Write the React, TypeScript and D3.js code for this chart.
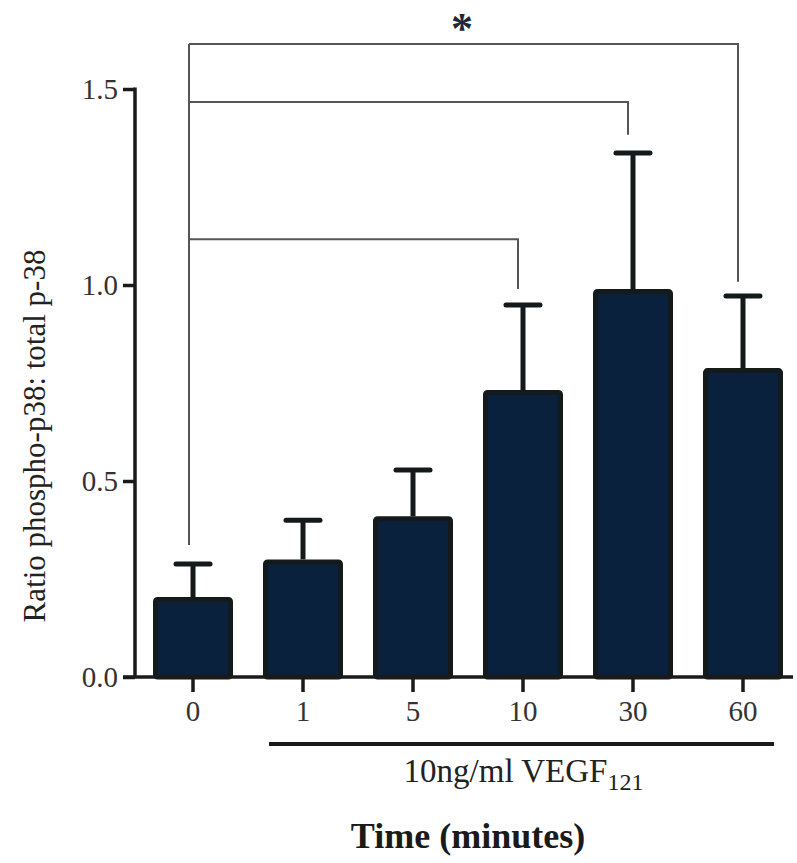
import React, { useEffect, useRef } from "react";
import * as d3 from "d3";

const width = 797;
const height = 863;

// time points (minutes) and measured ratio phospho-p38 : total p-38
const timeLabels = ["0", "1", "5", "10", "30", "60"];
const meanRatio = [0.204, 0.3, 0.41, 0.732, 0.99, 0.788];
const semRatio = [0.084, 0.1, 0.118, 0.217, 0.347, 0.184];
const yTicks = [0, 0.5, 1.0, 1.5];

// significance brackets from 0 min to a later time point
const compareTo = ["10", "30", "60"];
const bracketLevel = [1.117, 1.467, 1.615];
const bracketDrop = [0.99, 1.383, 1.008];
const bracketBase = 0.337;

const treatedLabels = ["1", "5", "10", "30", "60"];

const font = "'Liberation Serif', 'Times New Roman', serif";
const barFill = "#0a213e";

export default function App() {
  const ref = useRef<SVGSVGElement>(null);

  useEffect(() => {
    const svg = d3.select(ref.current);
    svg.selectAll("*").remove();

    const x = d3
      .scaleBand()
      .domain(timeLabels)
      .range([138, 798])
      .paddingInner(0.2727)
      .paddingOuter(0.1364);

    const y = d3.scaleLinear().domain([0, 1.5]).range([677, 89]);

    const cx = (k: string) => (x(k) as number) + x.bandwidth() / 2;

    // y axis
    const yAxis = svg.append("g").attr("transform", "translate(135,0)");
    yAxis
      .call(d3.axisLeft(y).tickValues(yTicks).tickFormat(d3.format(".1f")).tickSize(12).tickPadding(5))
      .call(g => g.select(".domain").remove());
    yAxis.selectAll(".tick line").attr("stroke", "#1a1a1a").attr("stroke-width", 3.5);
    yAxis
      .selectAll(".tick text")
      .attr("font-family", font)
      .attr("font-size", 29)
      .attr("fill", "#333");
    yAxis
      .append("line")
      .attr("y1", y(1.5) - 1.5)
      .attr("y2", y(0))
      .attr("stroke", "#1a1a1a")
      .attr("stroke-width", 3.5);

    // bars
    const bw = x.bandwidth();
    svg
      .append("g")
      .selectAll("rect")
      .data(timeLabels)
      .join("rect")
      .attr("x", d => (x(d) as number) + 2.5)
      .attr("y", (d, i) => y(meanRatio[i]) + 2.5)
      .attr("width", bw - 5)
      .attr("height", (d, i) => y(0) - y(meanRatio[i]) - 2.5)
      .attr("rx", 2)
      .attr("fill", barFill)
      .attr("stroke", "#141a1c")
      .attr("stroke-width", 5);

    // error bars (upper only)
    const err = svg.append("g").attr("stroke", "#141a1c").attr("stroke-width", 5);
    err
      .selectAll("line.v")
      .data(timeLabels)
      .join("line")
      .attr("class", "v")
      .attr("x1", d => cx(d))
      .attr("x2", d => cx(d))
      .attr("y1", (d, i) => y(meanRatio[i]))
      .attr("y2", (d, i) => y(meanRatio[i] + semRatio[i]));
    err
      .selectAll("line.cap")
      .data(timeLabels)
      .join("line")
      .attr("class", "cap")
      .attr("stroke-linecap", "round")
      .attr("x1", d => cx(d) - 17)
      .attr("x2", d => cx(d) + 17)
      .attr("y1", (d, i) => y(meanRatio[i] + semRatio[i]))
      .attr("y2", (d, i) => y(meanRatio[i] + semRatio[i]));

    // x axis
    const xAxis = svg.append("g").attr("transform", `translate(0,${y(0)})`);
    xAxis
      .call(d3.axisBottom(x).tickSize(15).tickPadding(8))
      .call(g => g.select(".domain").remove());
    xAxis.selectAll(".tick line").attr("stroke", "#1a1a1a").attr("stroke-width", 3.5);
    xAxis
      .selectAll(".tick text")
      .attr("font-family", font)
      .attr("font-size", 29)
      .attr("fill", "#333");
    xAxis
      .append("line")
      .attr("x1", 123)
      .attr("x2", 793)
      .attr("stroke", "#1a1a1a")
      .attr("stroke-width", 3.5);

    // significance brackets
    const left = cx("0") - 4;
    const br = svg.append("g").attr("stroke", "#555").attr("stroke-width", 2).attr("fill", "none");
    br.append("line")
      .attr("x1", left)
      .attr("x2", left)
      .attr("y1", y(d3.max(bracketLevel) as number))
      .attr("y2", y(bracketBase));
    compareTo.forEach((k, i) => {
      const xr = cx(k) - 5;
      br.append("path").attr(
        "d",
        `M${left},${y(bracketLevel[i])}H${xr}V${y(bracketDrop[i])}`
      );
    });
    svg
      .append("text")
      .attr("x", 462)
      .attr("y", 43)
      .attr("text-anchor", "middle")
      .attr("font-family", font)
      .attr("font-weight", "bold")
      .attr("font-size", 44)
      .attr("fill", "#1a2a3a")
      .text("*");

    // treatment bar
    const tx0 = (x(treatedLabels[0]) as number) + 6;
    const tx1 = (x(treatedLabels[treatedLabels.length - 1]) as number) + bw - 9;
    svg
      .append("line")
      .attr("x1", tx0)
      .attr("x2", tx1)
      .attr("y1", 744)
      .attr("y2", 744)
      .attr("stroke", "#1a1a1a")
      .attr("stroke-width", 4);
    const t = svg
      .append("text")
      .attr("x", (tx0 + tx1) / 2 + 2)
      .attr("y", 782)
      .attr("text-anchor", "middle")
      .attr("font-family", font)
      .attr("font-size", 33)
      .attr("fill", "#222");
    t.append("tspan").text("10ng/ml VEGF");
    t.append("tspan").attr("font-size", 24).attr("dy", 8).text("121");

    // axis titles
    svg
      .append("text")
      .attr("x", 468)
      .attr("y", 848)
      .attr("text-anchor", "middle")
      .attr("font-family", font)
      .attr("font-weight", "bold")
      .attr("font-size", 36)
      .attr("fill", "#1a1a1a")
      .text("Time (minutes)");
    svg
      .append("text")
      .attr("transform", "translate(45,436) rotate(-90)")
      .attr("text-anchor", "middle")
      .attr("font-family", font)
      .attr("font-size", 31)
      .attr("fill", "#222")
      .text("Ratio phospho-p38: total p-38");
  }, []);

  return (
    <svg
      ref={ref}
      width={width}
      height={height}
      viewBox={`0 0 ${width} ${height}`}
      style={{ position: "absolute", left: 0, top: 0, background: "#fff" }}
    />
  );
}
